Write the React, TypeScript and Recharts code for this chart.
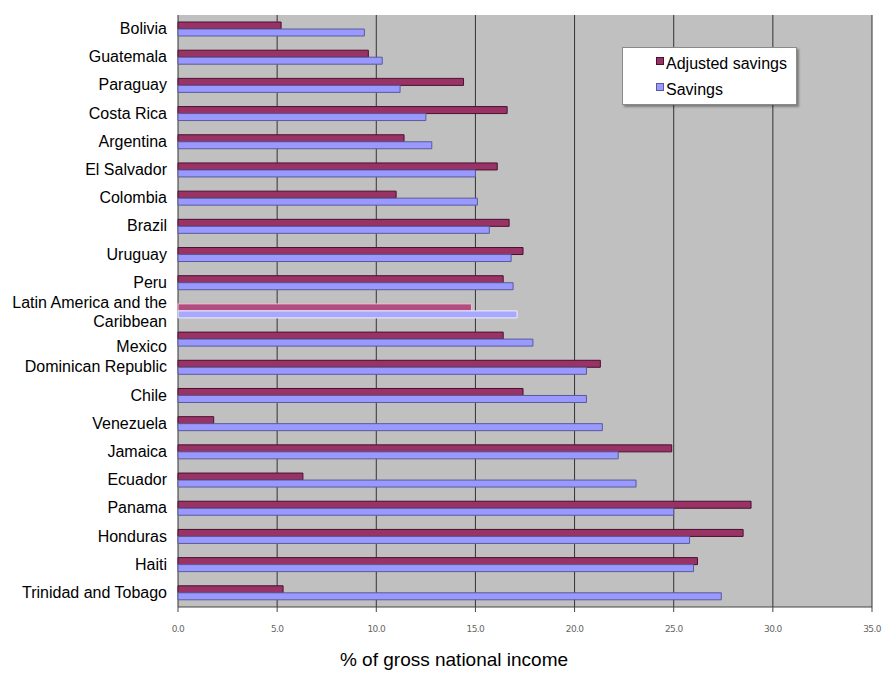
import React from "react";
import { BarChart, Bar, XAxis, YAxis, CartesianGrid, Legend, Cell } from "recharts";

const countries = [
  "Bolivia",
  "Guatemala",
  "Paraguay",
  "Costa Rica",
  "Argentina",
  "El Salvador",
  "Colombia",
  "Brazil",
  "Uruguay",
  "Peru",
  "Latin America and the Caribbean",
  "Mexico",
  "Dominican Republic",
  "Chile",
  "Venezuela",
  "Jamaica",
  "Ecuador",
  "Panama",
  "Honduras",
  "Haiti",
  "Trinidad and Tobago",
];

const adjustedSavings = [
  5.2, 9.6, 14.4, 16.6, 11.4, 16.1, 11.0, 16.7, 17.4, 16.4, 14.8, 16.4, 21.3, 17.4, 1.8, 24.9, 6.3, 28.9, 28.5,
  26.2, 5.3,
];

const savings = [
  9.4, 10.3, 11.2, 12.5, 12.8, 15.0, 15.1, 15.7, 16.8, 16.9, 17.1, 17.9, 20.6, 20.6, 21.4, 22.2, 23.1, 25.0, 25.8,
  26.0, 27.4,
];

const xTicks = [0, 5, 10, 15, 20, 25, 30, 35];
const regionName = "Latin America and the Caribbean";

const data = countries.map((name, i) => ({
  name,
  adjusted: adjustedSavings[i],
  savings: savings[i],
}));

const FONT = "'Liberation Sans', Arial, sans-serif";

// category labels, the regional aggregate wraps onto two lines and pushes the next one down a little
function CountryTick({ y, payload }: any) {
  if (payload.value === regionName) {
    return (
      <text x={167} y={y} textAnchor="end" fontSize={16} fontFamily={FONT} fill="#000">
        <tspan x={167} dy={-3}>Latin America and the</tspan>
        <tspan x={167} dy={19}>Caribbean</tspan>
      </text>
    );
  }
  const shift = payload.index > 0 && countries[payload.index - 1] === regionName ? 8 : 0;
  return (
    <text x={167} y={y} dy={5 + shift} textAnchor="end" fontSize={16} fontFamily={FONT} fill="#000">
      {payload.value}
    </text>
  );
}

function LegendBox({ payload }: any) {
  return (
    <div
      style={{
        background: "#fff",
        border: "1px solid #8a8a8a",
        boxShadow: "2px 2px 2px rgba(0,0,0,0.35)",
        padding: "3px 0 0 33px",
        fontFamily: FONT,
        fontSize: 16,
        boxSizing: "border-box",
        width: 175,
        height: 58,
      }}
    >
      {(payload || []).map((p: any) => (
        <div key={p.value} style={{ display: "flex", alignItems: "center", height: 26 }}>
          <span
            style={{
              display: "inline-block",
              width: 6,
              height: 6,
              marginRight: 2,
              marginTop: -6,
              background: p.color,
              border: "1px solid " + (p.value === "Savings" ? "#5a5a99" : "#4a1030"),
            }}
          />
          <span>{p.value}</span>
        </div>
      ))}
    </div>
  );
}

export default function App() {
  return (
    <div style={{ position: "absolute", left: 0, top: 0, width: 883, height: 673, background: "#fff" }}>
      <BarChart
        width={883}
        height={673}
        data={data}
        layout="vertical"
        barSize={7}
        barGap={0}
        margin={{ top: 15, right: 11, bottom: 0, left: 0 }}
      >
        <CartesianGrid horizontal={false} stroke="#333" fill="#c0c0c0" />
        <XAxis
          type="number"
          domain={[0, 35]}
          ticks={xTicks}
          height={66}
          tickFormatter={(v: number) => v.toFixed(1)}
          tick={{ fontSize: 9, fill: "#666", fontFamily: "'DejaVu Sans', sans-serif", letterSpacing: -0.6 }}
          tickSize={5}
          tickMargin={14}
          axisLine={{ stroke: "#444" }}
          tickLine={{ stroke: "#444" }}
          label={{
            content: ({ viewBox }: any) => (
              <text
                x={viewBox.x + viewBox.width / 2 - 71}
                y={viewBox.y + 59}
                textAnchor="middle"
                fontSize={19}
                fontFamily={FONT}
                fill="#000"
              >
                % of gross national income
              </text>
            ),
          }}
        />
        <YAxis
          yAxisId="edges"
          type="number"
          orientation="left"
          domain={[0, countries.length]}
          ticks={countries.map((_, i) => i).concat(countries.length)}
          tick={false}
          tickSize={4}
          width={0}
          axisLine={{ stroke: "#9a9a9a" }}
          tickLine={{ stroke: "#777" }}
        />
        <YAxis
          type="category"
          dataKey="name"
          width={178}
          interval={0}
          tick={<CountryTick />}
          tickLine={false}
          axisLine={false}
        />
        <Legend
          layout="vertical"
          align="center"
          verticalAlign="middle"
          content={<LegendBox />}
          wrapperStyle={{ left: 622, top: 47, width: 175, height: 58 }}
        />
        <Bar dataKey="adjusted" name="Adjusted savings" fill="#993366" stroke="#4a1030" strokeWidth={1} isAnimationActive={false}>
          {data.map((d) => (
            <Cell
              key={d.name}
              fill={d.name === regionName ? "#b24d80" : "#993366"}
              stroke={d.name === regionName ? "#f0b8d0" : "#4a1030"}
            />
          ))}
        </Bar>
        <Bar dataKey="savings" name="Savings" fill="#9999ff" stroke="#5a5a99" strokeWidth={1} isAnimationActive={false}>
          {data.map((d) => (
            <Cell
              key={d.name}
              fill={d.name === regionName ? "#a8a8ff" : "#9999ff"}
              stroke={d.name === regionName ? "#eeeeff" : "#5a5a99"}
            />
          ))}
        </Bar>
      </BarChart>
    </div>
  );
}
